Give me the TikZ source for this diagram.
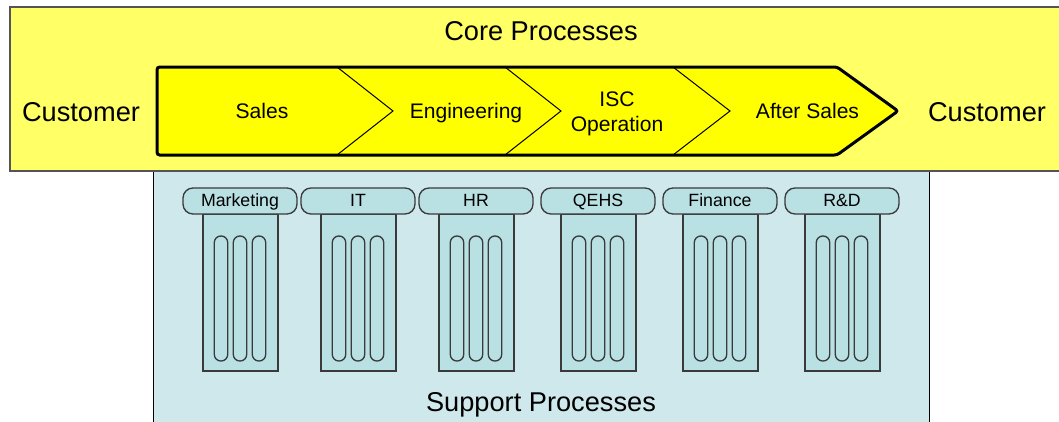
\documentclass[tikz,border=0pt]{standalone}
\usepackage{fontspec}
\setmainfont{Liberation Sans}
\definecolor{bgyellow}{HTML}{FFFF66}
\definecolor{chevyellow}{HTML}{FFFF00}
\definecolor{bgcyan}{HTML}{CFE8EC}
\definecolor{pillarcyan}{HTML}{B9E0E3}
\definecolor{pillarline}{HTML}{3A3A3A}
\definecolor{boxline}{HTML}{555555}
\begin{document}
\begin{tikzpicture}[x=0.75pt,y=-0.75pt,
  bigtext/.style={font=\fontsize{20.4}{24}\selectfont, inner sep=0pt, anchor=base},
  proctext/.style={font=\fontsize{15.8}{18.75}\selectfont, inner sep=0pt, anchor=base},
  capbox/.style={draw=pillarline, line width=1pt, fill=pillarcyan, rounded corners=7.5pt,
    minimum width=85.5pt, minimum height=19.5pt, inner sep=0pt,
    font=\fontsize{13.3}{16}\selectfont, text height=0.8em, text depth=0pt},
  colstyle/.style={draw=pillarline, line width=1pt, fill=pillarcyan},
  flute/.style={draw=pillarline, line width=1pt, rounded corners=4.9pt},
  sep/.style={draw=black, line width=0.75pt},
]
\useasboundingbox (0,0) rectangle (1059,421);
\clip (0,0) rectangle (1059,421);
\fill[white] (0,0) rectangle (1059,421);

% support area
\draw[draw=black, line width=0.75pt, fill=bgcyan] (153,171) rectangle (929,430);
% core area
\draw[draw=boxline, line width=0.9pt, fill=bgyellow] (10,7) rectangle (1070,171);

% chevron strip
\fill[chevyellow, rounded corners=2pt] (157,67) -- (837,67) -- (898,111) -- (837,155) -- (157,155) -- cycle;
\draw[sep] (337,67) -- (393,111) -- (337,155);
\draw[sep] (505,67) -- (561,111) -- (505,155);
\draw[sep] (673,67) -- (730,111) -- (673,155);
\draw[black, line width=2.25pt, rounded corners=2pt, line join=miter] (157,67) -- (837,67) -- (898,111) -- (837,155) -- (157,155) -- cycle;

% texts
\node[bigtext] (core) at (541,40) {Core Processes};
\node[bigtext] (support) at (541,411) {Support Processes};
\node[bigtext] (custL) at (81,121) {Customer};
\node[bigtext] (custR) at (987,121) {Customer};
\node[proctext] (sales) at (262,118) {Sales};
\node[proctext] (eng) at (466,118) {Engineering};
\node[font=\fontsize{15.8}{18.75}\selectfont, inner sep=0pt, align=center] (isc) at (617,113.5) {ISC\\Operation};
\node[proctext] (after) at (807.5,118) {After Sales};

% pillars
\foreach \name/\x/\lab in {mkt/183/Marketing, it/301/IT, hr/419/HR, qehs/541/QEHS, fin/663/Finance, rd/785/R\&D}{
  \draw[colstyle] (\x+20,214) rectangle (\x+95,371);
  \draw[flute] (\x+31.3,236) rectangle (\x+44.7,361);
  \draw[flute] (\x+50.3,236) rectangle (\x+63.7,361);
  \draw[flute] (\x+69.3,236) rectangle (\x+82.7,361);
  \node[capbox] (cap-\name) at (\x+57,201) {\lab};
}
\end{tikzpicture}
\end{document}
